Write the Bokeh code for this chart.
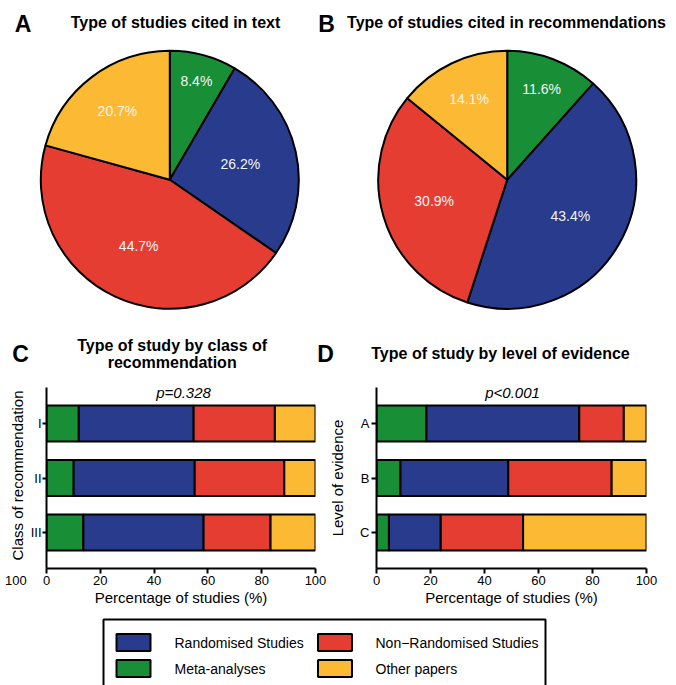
import numpy as np
from bokeh.plotting import figure
from bokeh.models import Range1d, FactorRange, Label, ColumnDataSource, LinearAxis, FixedTicker
from bokeh.layouts import column, row
from bokeh.embed import file_html
from bokeh.resources import INLINE
from bokeh.core.properties import value

FONT = "Liberation Sans"

# ---------------- data ----------------
series = ["Meta-analyses", "Randomised Studies", "Non\u2212Randomised Studies", "Other papers"]
colors = ["#188f37", "#283b8c", "#e53d31", "#fcb933"]

pie_text_vals = [8.4, 26.2, 44.7, 20.7]          # cited in text
pie_rec_vals = [11.6, 43.4, 30.9, 14.1]          # cited in recommendations

class_cats = ["I", "II", "III"]
class_meta = [12.0, 10.1, 13.7]
class_rand = [42.7, 45.0, 44.7]
class_nonrand = [30.2, 33.3, 24.9]
class_other = [15.1, 11.6, 16.7]
class_p = "p=0.328"

level_cats = ["A", "B", "C"]
level_meta = [18.5, 8.9, 4.6]
level_rand = [56.6, 39.9, 19.2]
level_nonrand = [16.5, 38.3, 30.5]
level_other = [8.4, 12.9, 45.7]
level_p = "p<0.001"

x_ticks = [0, 20, 40, 60, 80, 100]

FRAME_TOP, FRAME_BOTTOM = 387, 568      # page y of the bar-chart frames


def blank(W, H, ox, oy, bt=0, bb=0):
    p = figure(width=W, height=H, x_range=Range1d(0, W), y_range=Range1d(0, H - bt - bb),
               output_backend="svg", toolbar_location=None, min_border=0,
               min_border_top=bt, min_border_bottom=bb, min_border_left=0, min_border_right=0)
    p.axis.visible = False
    p.grid.visible = False
    p.outline_line_color = None
    p._fx = lambda px: px - ox
    p._fy = lambda py: (H - bb) - (py - oy)
    return p


def txt(p, px, py, s, size, style="normal", align="center", color="black", angle=0.0):
    p.text(x=[p._fx(px)], y=[p._fy(py)], text=[s], text_font=value(FONT), text_font_size=size,
           text_font_style=style, text_align=align, text_baseline="middle", text_color=color,
           angle=angle)


def pie_fig(vals, title, letter, ox, oy, W, H, cx, cy, r, label_r, title_x, letter_x):
    p = blank(W, H, ox, oy)
    v = np.array(vals) / np.sum(vals)
    cum = np.concatenate([[0.0], np.cumsum(v)])
    start = np.pi / 2 - 2 * np.pi * cum[:-1]
    end = np.pi / 2 - 2 * np.pi * cum[1:]
    src = ColumnDataSource(dict(start=start, end=end, color=colors))
    p.wedge(x=p._fx(cx), y=p._fy(cy), radius=r, start_angle="start", end_angle="end",
            direction="clock", fill_color="color", line_color="black", line_width=2, source=src)
    mid = np.pi / 2 - 2 * np.pi * (cum[:-1] + cum[1:]) / 2
    lx = p._fx(cx) + np.array(label_r) * r * np.cos(mid)
    ly = p._fy(cy) + np.array(label_r) * r * np.sin(mid)
    p.text(x=lx, y=ly, text=[f"{x}%" for x in vals], text_font=value(FONT),
           text_font_size="14px", text_color="#f4f4f4", text_align="center", text_baseline="middle")
    txt(p, title_x, 21.5, title, "16px", "bold")
    txt(p, letter_x, 23, letter, "23px", "bold")
    return p


def bar_fig(cats, meta, rand, nonrand, other, ylabel, ox, oy, W, H, fl, fr, ft, fb,
            lab_standoff, tick_out, lbl_standoff):
    p = figure(width=W, height=H, x_range=Range1d(0, 100),
               y_range=FactorRange(factors=cats[::-1], range_padding=0.107),
               output_backend="svg", toolbar_location=None,
               min_border_left=fl, min_border_right=fr, min_border_top=ft, min_border_bottom=fb)
    src = ColumnDataSource(dict(cat=cats, meta=meta, rand=rand, nonrand=nonrand, other=other))
    p.hbar_stack(["meta", "rand", "nonrand", "other"], y="cat", height=0.66,
                 fill_color=colors, line_color="black", line_width=2, source=src)
    p.grid.visible = False
    p.outline_line_color = None
    p.xaxis.ticker = x_ticks
    p.xaxis.axis_label = "Percentage of studies (%)"
    if ylabel:
        p.yaxis.axis_label = ylabel
    for ax in (p.xaxis[0], p.yaxis[0]):
        ax.axis_line_width = 2
        ax.axis_line_color = "black"
        ax.major_tick_line_width = 2
        ax.major_tick_line_color = "black"
        ax.major_tick_out = 5
        ax.major_tick_in = 0
        ax.minor_tick_line_color = None
        ax.major_label_text_font = FONT
        ax.major_label_text_font_size = "13px"
        ax.major_label_text_color = "black"
        ax.major_label_standoff = 2
        ax.axis_label_text_font = FONT
        ax.axis_label_text_font_size = "15px"
        ax.axis_label_text_font_style = "normal"
        ax.axis_label_text_color = "black"
    p.xaxis.axis_label_standoff = 1
    p.yaxis.axis_label_standoff = lab_standoff
    p.yaxis.major_tick_out = tick_out
    p.yaxis.major_label_standoff = lbl_standoff
    frame_left = ox + fl
    frame_bottom = oy + H - fb
    p._sx = lambda px: px - frame_left
    p._sy = lambda py: frame_bottom - py
    return p


def lab(p, px, py, s, size, style="normal", align="center"):
    p.add_layout(Label(x=p._sx(px), y=p._sy(py), x_units="screen", y_units="screen", text=s,
                       text_font=FONT, text_font_size=size, text_font_style=style,
                       text_align=align, text_baseline="middle", text_color="black"))


# ---------------- top row: pies (page y 0..330) ----------------
pA = pie_fig(pie_text_vals, "Type of studies cited in text", "A", 0, 0, 312, 330,
             169.3, 179.3, 129, [0.79, 0.56, 0.57, 0.67], 175, 22.5)
pB = pie_fig(pie_rec_vals, "Type of studies cited in recommendations", "B", 312, 0, 364, 330,
             506.7, 179.3, 129, [0.75, 0.565, 0.59, 0.69], 506, 326)

# ---------------- title strip for C / D (page y 330..378) ----------------
tC = blank(312, 48, 0, 330)
txt(tC, 171.7, 344.5, "Type of study by class of", "16px", "bold")
txt(tC, 171.7, 362, "recommendation", "16px", "bold")
txt(tC, 20, 353.5, "C", "23px", "bold")
tD = blank(364, 48, 312, 330)
txt(tD, 500, 353, "Type of study by level of evidence", "16px", "bold")
txt(tD, 325, 353.5, "D", "23px", "bold")

# ---------------- bars (page y 378..610) ----------------
BT, BB = FRAME_TOP - 378, 610 - FRAME_BOTTOM
SW = 27
sC = blank(SW, 232, 0, 378, BT, BB)
txt(sC, 17, 475, "Class of recommendation", "15px", angle=np.pi / 2)
stray = LinearAxis(ticker=FixedTicker(ticks=[17]), major_label_overrides={17: "100"},
                   axis_line_color=None, major_tick_line_color=None, minor_tick_line_color=None,
                   major_tick_out=5, major_tick_in=0, major_label_standoff=2,
                   major_label_text_font=FONT, major_label_text_font_size="13px",
                   major_label_text_color="black")
sC.add_layout(stray, "below")

pC = bar_fig(class_cats, class_meta, class_rand, class_nonrand, class_other,
             None, SW, 378, 326 - SW, 232, 45 - SW, 326 - 315, BT, BB, 0, 4, 1)
pD = bar_fig(level_cats, level_meta, level_rand, level_nonrand, level_other,
             "Level of evidence", 326, 378, 350, 232, 50, 30, BT, BB, 11, 5, 2)

lab(pC, 182, 391.7, class_p, "15px", "italic")
lab(pD, 512, 391.7, level_p, "15px", "italic")

# ---------------- legend (page y 610..685) ----------------
pL = blank(676, 75, 0, 610)
pL.line(x=[pL._fx(103), pL._fx(103), pL._fx(545), pL._fx(545)],
        y=[pL._fy(720), pL._fy(619), pL._fy(619), pL._fy(720)],
        line_color="black", line_width=2)
order = [1, 2, 0, 3]
sw_x = [133, 334.5, 133, 334.5]
sw_y = [642, 642, 668, 668]
tx_x = [174, 375, 174, 375]
pL.rect(x=[pL._fx(v) for v in sw_x], y=[pL._fy(v) for v in sw_y], width=34, height=17,
        fill_color=[colors[i] for i in order], line_color="black", line_width=2)
pL.text(x=[pL._fx(v) for v in tx_x], y=[pL._fy(v) for v in sw_y], text=[series[i] for i in order],
        text_font=value(FONT), text_font_size="14px", text_align="left", text_baseline="middle",
        text_color="black")

layout = column(row(pA, pB), row(tC, tD), row(sC, pC, pD), pL)
open("out.html", "w").write(file_html(layout, INLINE))
